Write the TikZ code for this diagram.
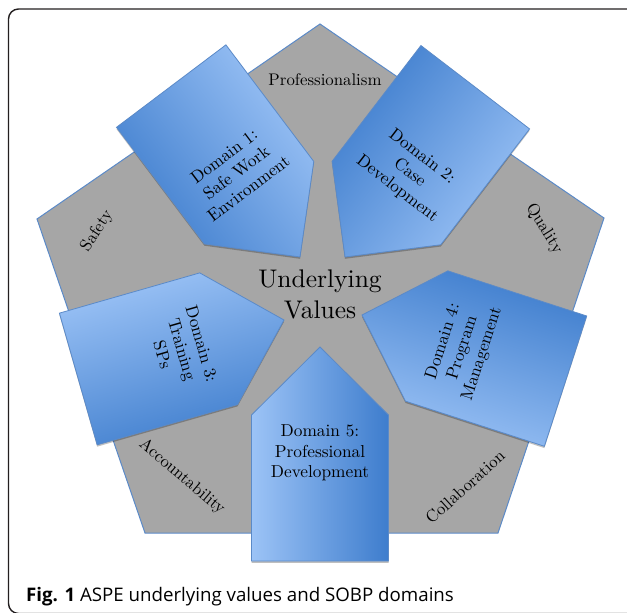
\documentclass[tikz,border=0pt]{standalone}
\usepackage{fontspec}
\setmainfont{lmroman10-regular}[Extension=.otf]
\newfontfamily\capfont{Open Sans}
\usepackage{tikz}

\definecolor{domdark}{HTML}{3E7DCD}
\definecolor{domlight}{HTML}{9CC3F6}
\definecolor{domedge}{HTML}{5B8AC8}
\definecolor{valgray}{HTML}{A6A6A6}
\definecolor{framegray}{HTML}{231F20}

\begin{document}
\begin{tikzpicture}[x=1pt,y=-1pt,
		domshape/.style={draw=domedge,line width=0.8pt,top color=domlight,bottom color=domdark},
		domshadow/.style={fill=black,opacity=0.25,transform canvas={yshift=-1.8pt}},
		domtext/.style={align=center,inner sep=0pt,font=\fontsize{17.3}{20.4}\selectfont},
		valtext/.style={inner sep=0pt,font=\fontsize{16.8}{20}\selectfont}]
		%\draw[help lines,step=50] (0,0) grid (627,613);
		\useasboundingbox (0,0) rectangle (627,613);
		\clip (0,0) rectangle (627,613);
		\draw[framegray,line width=1.4pt,rounded corners=10pt] (8.5,9) rectangle (660,613.5);
		\draw[fill=valgray,draw=domedge,line width=1pt] (320,24) -- (604,218) -- (498,533) -- (145,533) -- (37,219) -- cycle;
		\foreach \tx/\ty/\r/\tr/\txt [count=\i] in {300/257/-53/37/{Domain 1:\\Safe Work\\Environment},
			345/257/-127.5/-37.5/{Domain 2:\\Case\\Development},
			284/320/16/-74/{Domain 3:\\Training\\SPs},
			362/315/162/72/{Domain 4:\\Program\\Management},
			320/347/90/0/{Domain 5:\\Professional\\Development}} {
			\begin{scope}[shift={(\tx,\ty)},rotate=\r]
				\fill[domshadow] (0,0) -- (-68,68.5) -- (-214,68.5) -- (-214,-68.5) -- (-68,-68.5) -- cycle;
				\shade[domshape,shading angle=\r] (0,0) -- (-68,68.5) -- (-214,68.5) -- (-214,-68.5) -- (-68,-68.5) -- cycle;
				\node[domtext,rotate=\tr] (dom\i) at (-106,0) {\txt};
			\end{scope}
		}
		\node[valtext] (prof) at (325,80) {Professionalism};
		\node[valtext,rotate=57] (safety) at (97,231) {Safety};
		\node[valtext,rotate=-58] (quality) at (544,229) {Quality};
		\node[valtext,rotate=-40] (account) at (182,477) {Accountability};
		\node[valtext,rotate=42] (collab) at (465,487) {Collaboration};
		\node[align=center,inner sep=0pt,font=\fontsize{25.5}{31}\selectfont] (values) at (320,294) {Underlying\\Values};
		\node[anchor=base west,inner sep=0pt,font=\capfont\fontsize{18.7}{22}\selectfont] (caption) at (26,601) {\textbf{Fig. 1} ASPE underlying values and SOBP domains};
\end{tikzpicture}
\end{document}
